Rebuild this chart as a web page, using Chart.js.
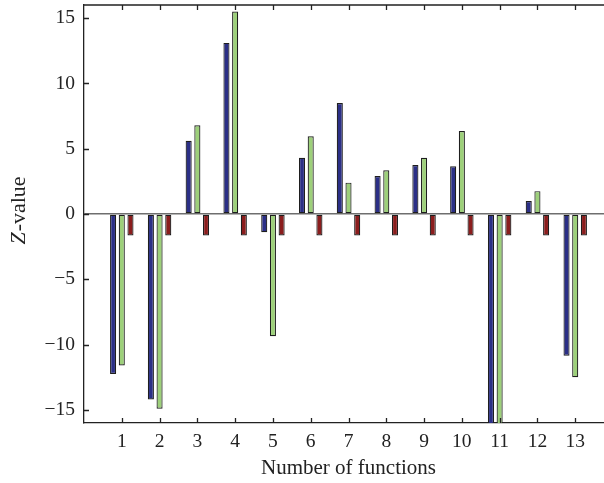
<!DOCTYPE html>
<html>
<head>
<meta charset="utf-8">
<script src="https://cdn.jsdelivr.net/npm/chart.js@4/dist/chart.umd.min.js"></script>
<style>
  html, body { margin: 0; padding: 0; background: #fff; overflow: hidden; }
  #wrap { width: 620px; height: 483px; }
</style>
</head>
<body>
<div id="wrap"><canvas id="zChart" width="620" height="483"></canvas></div>
<script>
/* Data */
const functions = ["1", "2", "3", "4", "5", "6", "7", "8", "9", "10", "11", "12", "13"];
const blueValues = [-12.25, -14.2, 5.6, 13.1, -1.4, 4.3, 8.5, 2.9, 3.75, 3.65, -17, 1.0, -10.85];
const greenValues = [-11.6, -14.9, 6.8, 15.5, -9.35, 5.95, 2.4, 3.35, 4.3, 6.35, -17, 1.75, -12.5];
const redValues = [-1.65, -1.65, -1.65, -1.65, -1.65, -1.65, -1.65, -1.65, -1.65, -1.65, -1.65, -1.65, -1.65];
const yTicks = [-15, -10, -5, 0, 5, 10, 15];

// empty slots on both ends so the first and last group sit one step in
const labels = ["", ...functions, ""];
const pad = (arr) => [null, ...arr, null];

const serif = "'Liberation Serif', 'DejaVu Serif', serif";

/* Inward tick marks, top frame line and the y title with an italic Z */
const frameTicks = {
  id: "frameTicks",
  afterDatasetsDraw(chart) {
    const ctx = chart.ctx;
    const area = chart.chartArea;
    const x = chart.scales.x;
    const y = chart.scales.y;
    ctx.save();
    ctx.strokeStyle = "#222";
    ctx.lineWidth = 1.3;
    ctx.beginPath();
    ctx.moveTo(area.left, area.top);
    ctx.lineTo(area.right, area.top);
    labels.forEach((lab, i) => {
      if (!lab) return;
      const px = Math.round(x.getPixelForValue(i)) + 0.5;
      ctx.moveTo(px, area.bottom);
      ctx.lineTo(px, area.bottom - 5);
      ctx.moveTo(px, area.top);
      ctx.lineTo(px, area.top + 5);
    });
    yTicks.forEach((v) => {
      const py = Math.round(y.getPixelForValue(v)) + 0.5;
      ctx.moveTo(area.left, py);
      ctx.lineTo(area.left + 5, py);
    });
    ctx.stroke();

    const italic = "italic 22px " + serif;
    const upright = "22px " + serif;
    ctx.font = italic;
    const wZ = ctx.measureText("Z").width;
    ctx.font = upright;
    const wRest = ctx.measureText("-value").width;
    ctx.translate(19, (area.top + area.bottom) / 2 - 3);
    ctx.rotate(-Math.PI / 2);
    ctx.fillStyle = "#222";
    ctx.textBaseline = "middle";
    ctx.textAlign = "left";
    const start = -(wZ + wRest) / 2;
    ctx.font = italic;
    ctx.fillText("Z", start, 0);
    ctx.font = upright;
    ctx.fillText("-value", start + wZ + 1, 0);
    ctx.restore();
  },
};

const barStyle = {
  borderColor: "#1e1e1e",
  borderWidth: 1.2,
  borderSkipped: false,
  inflateAmount: 0,
  categoryPercentage: 0.69,
  barPercentage: 0.7,
};

const ctxZ = document.getElementById("zChart").getContext("2d");

const zChart = new Chart(ctxZ, {
  type: "bar",
  data: {
    labels: labels,
    datasets: [
      { data: pad(blueValues), backgroundColor: "#2b2f86", ...barStyle },
      { data: pad(greenValues), backgroundColor: "#9dd07a", ...barStyle },
      { data: pad(redValues), backgroundColor: "#8b1d1d", ...barStyle },
    ],
  },
  plugins: [frameTicks],
  options: {
    responsive: false,
    animation: false,
    layout: { padding: { top: 5, right: 7, left: 0, bottom: 0 } },
    plugins: {
      legend: { display: false },
      tooltip: { enabled: false },
    },
    scales: {
      x: {
        offset: false,
        afterFit: (scale) => {
          scale.height = 60;
          scale.paddingLeft = 0;
          scale.paddingRight = 0;
        },
        grid: { display: false, drawTicks: false },
        border: { display: true, color: "#222", width: 1.3 },
        ticks: {
          autoSkip: false,
          maxRotation: 0,
          padding: 7,
          color: "#222",
          font: { family: serif, size: 19.5 },
        },
        title: {
          display: true,
          text: "Number of functions",
          color: "#222",
          font: { family: serif, size: 21 },
          padding: { top: 0, bottom: 2 },
        },
      },
      y: {
        min: -16,
        max: 16,
        afterFit: (scale) => {
          scale.width = 84;
          scale.paddingTop = 0;
          scale.paddingBottom = 0;
        },
        afterBuildTicks: (scale) => {
          scale.ticks = yTicks.map((v) => ({ value: v }));
        },
        grid: {
          drawTicks: false,
          lineWidth: 1.5,
          color: (c) => (c.tick && c.tick.value === 0 ? "#6e6e6e" : "rgba(0,0,0,0)"),
        },
        border: { display: true, color: "#222", width: 1.3 },
        ticks: {
          padding: 9,
          color: "#222",
          font: { family: serif, size: 19.5 },
          callback: (v) => String(v).replace("-", "\u2212"),
        },
      },
    },
  },
});
</script>
</body>
</html>
